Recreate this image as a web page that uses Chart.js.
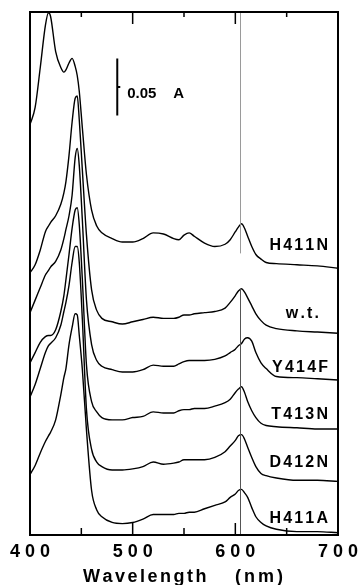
<!DOCTYPE html>
<html>
<head>
<meta charset="utf-8">
<script src="https://cdn.jsdelivr.net/npm/chart.js@4.4.1/dist/chart.umd.min.js"></script>
<style>
  body { margin: 0; background: #fff; }
  canvas { display: block; }
</style>
</head>
<body>
<canvas id="espectros" width="364" height="585"></canvas>
<script>
// longitudes de onda (nm), comunes a todos los espectros
const longitudes = [400, 405, 410, 415, 418, 420, 425, 430, 433, 435,
                    438, 441, 444, 446, 448, 451, 455, 460, 465, 470,
                    480, 490, 500, 510, 520, 530, 540, 545, 550, 555,
                    560, 570, 580, 590, 595, 600, 603, 606, 609, 612,
                    616, 620, 625, 630, 640, 660, 680, 700];

// absorbancia en mA, ya desplazada verticalmente como se apilan
const h411n = [360, 375, 410, 447, 458, 455, 424, 410, 406, 408,
               414, 418, 411, 403, 389, 357, 316, 285, 271, 265,
               260, 257, 257, 260, 265, 264, 260, 259, 263, 265,
               262, 256, 253, 255, 259, 266, 270, 273, 269, 262,
               253, 246, 242, 239, 238, 237, 236, 234];
const wt = [230, 237, 250, 266, 271, 274, 280, 290, 300, 310,
            333, 362, 383, 385, 364, 320, 263, 215, 197, 190,
            187, 185, 187, 189, 191, 190, 190, 191, 193, 193,
            194, 195, 196, 199, 204, 210, 214, 216, 213, 208,
            201, 194, 188, 184, 181, 179, 178, 177];
const y414f = [195, 206, 217, 228, 232, 235, 240, 250, 260, 268,
               280, 298, 331, 339, 324, 276, 206, 167, 153, 148,
               145, 143, 143, 145, 149, 148, 148, 150, 152, 153,
               153, 153, 154, 157, 160, 163, 166, 168, 172, 173,
               170, 160, 151, 146, 139, 138, 137, 136];
const t413n = [151, 160, 169, 174, 175, 175, 180, 196, 210, 224,
               246, 269, 285, 287, 272, 224, 149, 117, 108, 103,
               101, 101, 103, 104, 108, 107, 107, 109, 110, 110,
               111, 111, 113, 116, 119, 125, 128, 130, 125, 117,
               109, 103, 98, 96, 95, 94, 93, 93];
const d412n = [121, 132, 146, 160, 166, 168, 173, 184, 196, 204,
               219, 239, 253, 253, 239, 189, 110, 75, 64, 60,
               57, 57, 58, 60, 64, 62, 63, 64, 66, 66,
               66, 66, 68, 73, 78, 83, 87, 88, 84, 77,
               68, 60, 54, 52, 50, 48, 48, 47];
const h411a = [53, 61, 72, 82, 87, 90, 101, 123, 138, 146,
               167, 182, 194, 193, 175, 145, 92, 39, 22, 16,
               11, 10, 11, 14, 18, 18, 18, 19, 19, 20,
               20, 23, 26, 29, 33, 36, 39, 40, 37, 33,
               24, 16, 11, 8, 5, 3, 3, 2];

const nombres = ['H411N', 'w.t.', 'Y414F', 'T413N', 'D412N', 'H411A'];
const series = [h411n, wt, y414f, t413n, d412n, h411a];

const ticksMayores = [400, 500, 600, 700];
const ticksMenores = [450, 550, 650];
const lineaRef = 605;          // nm
const tramosRef = [[247, 459], [0, 216]];
const escalaA = 50;            // 0.05 A en mA

// ajustes de los rotulos a la derecha: borde derecho y distancia a la curva
const rotulos = [
  { der: 328, sube: 18 },
  { der: 319, sube: 15 },
  { der: 328, sube: 8 },
  { der: 328, sube: 10 },
  { der: 328, sube: 14 },
  { der: 328, sube: 10 }
];

const fuente = '"Liberation Sans", Arial, sans-serif';

function textoEspaciado(ctx, txt, x, y, esp) {
  // dibuja txt empezando en x, con esp px extra entre letras
  let cx = x;
  for (const ch of txt) {
    ctx.fillText(ch, cx, y);
    cx += ctx.measureText(ch).width + esp;
  }
  return cx - esp;
}
function anchoEspaciado(ctx, txt, esp) {
  let w = 0;
  for (const ch of txt) w += ctx.measureText(ch).width + esp;
  return w - esp;
}

const marco = {
  id: 'marco',
  afterDraw(chart) {
    const ctx = chart.ctx;
    const ca = chart.chartArea;
    const xs = chart.scales.x;
    const ys = chart.scales.y;
    ctx.save();

    // linea vertical de referencia
    const xr = Math.round(xs.getPixelForValue(lineaRef)) + 0.5;
    ctx.lineWidth = 1;
    ctx.strokeStyle = '#9a9a9a';
    ctx.beginPath();
    ctx.moveTo(xr, ys.getPixelForValue(tramosRef[0][1]));
    ctx.lineTo(xr, ys.getPixelForValue(tramosRef[0][0]));
    ctx.stroke();
    ctx.strokeStyle = '#555';
    ctx.beginPath();
    ctx.moveTo(xr, ys.getPixelForValue(tramosRef[1][1]));
    ctx.lineTo(xr, ys.getPixelForValue(tramosRef[1][0]));
    ctx.stroke();

    // marco
    ctx.strokeStyle = '#000';
    ctx.lineWidth = 2;
    ctx.strokeRect(ca.left, ca.top, ca.right - ca.left, ca.bottom - ca.top);

    // ticks hacia dentro arriba y abajo
    ctx.lineWidth = 1.5;
    ctx.beginPath();
    ticksMayores.slice(1, -1).forEach(v => {
      const x = xs.getPixelForValue(v);
      ctx.moveTo(x, ca.top); ctx.lineTo(x, ca.top + 12);
      ctx.moveTo(x, ca.bottom); ctx.lineTo(x, ca.bottom - 12);
    });
    ticksMenores.forEach(v => {
      const x = xs.getPixelForValue(v);
      ctx.moveTo(x, ca.top); ctx.lineTo(x, ca.top + 5);
      ctx.moveTo(x, ca.bottom); ctx.lineTo(x, ca.bottom - 7);
    });
    ctx.stroke();

    // etiquetas del eje x, cifras separadas
    ctx.fillStyle = '#000';
    ctx.font = 'bold 18px ' + fuente;
    ctx.textAlign = 'center';
    ctx.textBaseline = 'alphabetic';
    ticksMayores.forEach(v => {
      const x = xs.getPixelForValue(v);
      const cifras = String(v).split('');
      cifras.forEach((c, i) => ctx.fillText(c, x + (i - 1) * 15, ca.bottom + 22));
    });

    // titulo del eje
    ctx.textAlign = 'left';
    ctx.font = 'bold 18px ' + fuente;
    textoEspaciado(ctx, 'Wavelength', ca.left + 53, ca.bottom + 47, 2.5);
    textoEspaciado(ctx, '(nm)', ca.left + 205, ca.bottom + 47, 3);

    // barra de escala 0.05 A
    const xb = xs.getPixelForValue(485);
    const yb1 = ys.getPixelForValue(418);
    const yb2 = ys.getPixelForValue(418 - escalaA);
    ctx.lineWidth = 2;
    ctx.beginPath();
    ctx.moveTo(xb, yb1); ctx.lineTo(xb, yb2);
    ctx.moveTo(xb, (yb1 + yb2) / 2); ctx.lineTo(xb + 3, (yb1 + yb2) / 2);
    ctx.stroke();
    ctx.font = 'bold 15px ' + fuente;
    ctx.fillText('0.05', xb + 10, yb1 + 40);
    ctx.fillText('A', xb + 56, yb1 + 40);

    // nombres de cada espectro
    ctx.font = 'bold 16px ' + fuente;
    series.forEach((s, i) => {
      const r = rotulos[i];
      const y = ys.getPixelForValue(s[s.length - 1]) - r.sube;
      const w = anchoEspaciado(ctx, nombres[i], 2.2);
      textoEspaciado(ctx, nombres[i], r.der - w, y, 2.2);
    });
    ctx.restore();
  }
};

const ctx = document.getElementById('espectros').getContext('2d');
const chart = new Chart(ctx, {
  type: 'line',
  data: {
    datasets: series.map((s, i) => ({
      label: nombres[i],
      data: s.map((v, j) => ({ x: longitudes[j], y: v })),
      borderColor: '#000',
      borderWidth: 1.4,
      pointRadius: 0,
      cubicInterpolationMode: 'monotone',
      fill: false
    }))
  },
  options: {
    responsive: false,
    animation: false,
    devicePixelRatio: 1,
    layout: { padding: { left: 30, right: 26, top: 12, bottom: 50 } },
    plugins: { legend: { display: false }, tooltip: { enabled: false } },
    scales: {
      x: { type: 'linear', min: 400, max: 700, display: false },
      y: { min: 0, max: 458.7, display: false }
    }
  },
  plugins: [marco]
});
</script>
</body>
</html>
